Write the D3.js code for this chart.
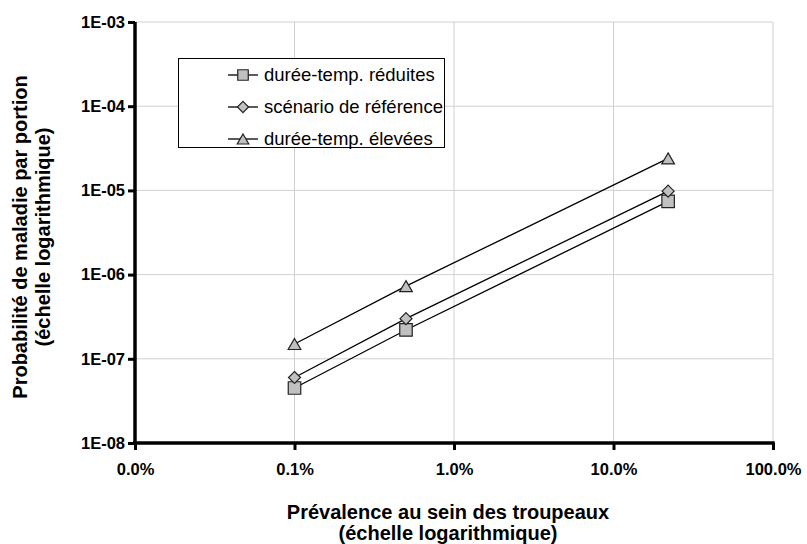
<!DOCTYPE html>
<html>
<head>
<meta charset="utf-8">
<script src="https://cdn.jsdelivr.net/npm/d3@7"></script>
<style>
  body { margin: 0; background: #fff; }
  svg { display: block; }
</style>
</head>
<body>
<svg id="chart" width="807" height="544"></svg>
<script>
// Prevalence (fraction of herd) for each scenario point
const prevalence = [0.001, 0.005, 0.22];

// Probability of illness per portion, by scenario
const seriesNames = ["durée-temp. réduites", "scénario de référence", "durée-temp. élevées"];
const reduites = [4.5e-8, 2.2e-7, 7.4e-6];
const reference = [6.0e-8, 3.0e-7, 9.8e-6];
const elevees = [1.5e-7, 7.3e-7, 2.4e-5];
const seriesValues = [reduites, reference, elevees];

// Tick values and labels
const xTicks = [0.0001, 0.001, 0.01, 0.1, 1];
const xTickLabels = ["0.0%", "0.1%", "1.0%", "10.0%", "100.0%"];
const yTicks = [1e-3, 1e-4, 1e-5, 1e-6, 1e-7, 1e-8];
const yTickLabels = ["1E-03", "1E-04", "1E-05", "1E-06", "1E-07", "1E-08"];

const font = "Liberation Sans, Arial, sans-serif";
const svg = d3.select("#chart");
const plot = { left: 135, right: 773, top: 22, bottom: 443 };

const x = d3.scaleLog().domain([0.0001, 1]).range([plot.left, plot.right]);
const y = d3.scaleLog().domain([1e-8, 1e-3]).range([plot.bottom, plot.top]);

// Marker shapes: square, diamond (square turned 45°), triangle
const diamond = {
  draw(ctx, size) {
    const r = Math.sqrt(size / 2);
    ctx.moveTo(0, -r); ctx.lineTo(r, 0); ctx.lineTo(0, r); ctx.lineTo(-r, 0); ctx.closePath();
  }
};
const triangle = {
  draw(ctx, size) {
    const s = Math.sqrt(size * 4 / Math.sqrt(3));
    const h = s * Math.sqrt(3) / 2;
    ctx.moveTo(0, -h / 2); ctx.lineTo(s / 2, h / 2); ctx.lineTo(-s / 2, h / 2); ctx.closePath();
  }
};
const seriesSymbols = [d3.symbolSquare, diamond, triangle];
const symSizes = [156, 72, 70];
const legendSizes = [110, 62, 58];

// Grid
const grid = svg.append("g");
grid.selectAll(".vg").data(xTicks.slice(1)).join("line")
  .attr("x1", d => x(d)).attr("x2", d => x(d))
  .attr("y1", plot.top).attr("y2", plot.bottom)
  .attr("stroke", "#d0d0d0").attr("stroke-width", 1);
grid.selectAll(".hg").data(yTicks.slice(0, -1)).join("line")
  .attr("x1", plot.left).attr("x2", plot.right)
  .attr("y1", d => y(d)).attr("y2", d => y(d))
  .attr("stroke", "#d0d0d0").attr("stroke-width", 1);

// Axes
const xAxis = d3.axisBottom(x).tickValues(xTicks)
  .tickFormat((d, i) => xTickLabels[i]).tickSize(7).tickPadding(13);
const gx = svg.append("g").attr("transform", `translate(0,${plot.bottom})`).call(xAxis);
gx.select(".domain").attr("stroke", "#000").attr("stroke-width", 3.5)
  .attr("d", `M${plot.left - 1.75},0H${plot.right + 1.75}`);
gx.selectAll(".tick line").attr("stroke", "#000").attr("stroke-width", 3);

const yAxis = d3.axisLeft(y).tickValues(yTicks)
  .tickFormat((d, i) => yTickLabels[i]).tickSize(7).tickPadding(3);
const gy = svg.append("g").attr("transform", `translate(${plot.left},0)`).call(yAxis);
gy.select(".domain").attr("stroke", "#000").attr("stroke-width", 3.5)
  .attr("d", `M0,${plot.top}V${plot.bottom + 1.75}`);
gy.selectAll(".tick line").attr("stroke", "#000").attr("stroke-width", 3);

svg.selectAll(".tick text")
  .attr("font-family", font).attr("font-weight", "bold")
  .attr("font-size", 16.5).attr("fill", "#000");

// Series lines and markers
const line = d3.line().x((d, i) => x(prevalence[i])).y(d => y(d));
seriesValues.forEach((vals) => {
  svg.append("path").attr("d", line(vals))
    .attr("fill", "none").attr("stroke", "#000").attr("stroke-width", 1.3);
});
seriesValues.forEach((vals, s) => {
  svg.append("g").selectAll("path").data(vals).join("path")
    .attr("transform", (d, i) => `translate(${x(prevalence[i])},${y(d)})`)
    .attr("d", d3.symbol().type(seriesSymbols[s]).size(symSizes[s]))
    .attr("fill", "#c0c0c0").attr("stroke", "#222").attr("stroke-width", 1.2);
});

// Legend
const lg = svg.append("g");
lg.append("rect").attr("x", 178.5).attr("y", 58.5).attr("width", 266).attr("height", 89)
  .attr("fill", "#fff").attr("stroke", "#000").attr("stroke-width", 1);
seriesNames.forEach((name, s) => {
  const cy = 75 + s * 32;
  lg.append("line").attr("x1", 228).attr("x2", 258).attr("y1", cy).attr("y2", cy)
    .attr("stroke", "#000").attr("stroke-width", 1.3);
  lg.append("path").attr("transform", `translate(243,${cy})`)
    .attr("d", d3.symbol().type(seriesSymbols[s]).size(legendSizes[s]))
    .attr("fill", "#c0c0c0").attr("stroke", "#222").attr("stroke-width", 1.2);
  lg.append("text").attr("x", 264).attr("y", cy).attr("dy", "0.35em")
    .attr("font-family", font).attr("font-size", 18.5)
    .text(name);
});

// Axis titles
const xt = svg.append("text").attr("text-anchor", "middle")
  .attr("font-family", font).attr("font-weight", "bold").attr("font-size", 20);
xt.append("tspan").attr("x", 448).attr("y", 519).text("Prévalence au sein des troupeaux");
xt.append("tspan").attr("x", 448).attr("y", 540).text("(échelle logarithmique)");

const yt = svg.append("text").attr("text-anchor", "middle")
  .attr("transform", "translate(0,237) rotate(-90)")
  .attr("font-family", font).attr("font-weight", "bold").attr("font-size", 20);
yt.append("tspan").attr("x", 0).attr("y", 27).text("Probabilité de maladie par portion");
yt.append("tspan").attr("x", 0).attr("y", 50).text("(échelle logarithmique)");
</script>
</body>
</html>
